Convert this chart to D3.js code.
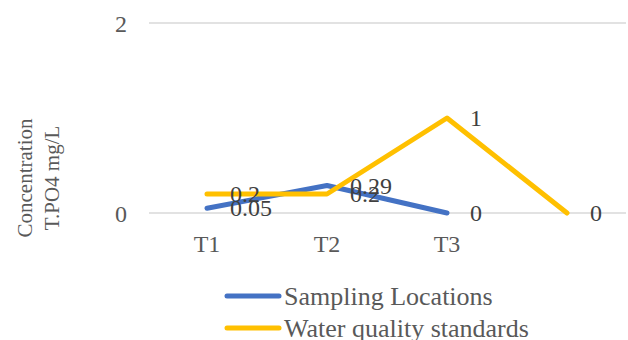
<!DOCTYPE html>
<html>
<head>
<meta charset="utf-8">
<script src="https://cdn.jsdelivr.net/npm/d3@7"></script>
<style>
  html, body { margin: 0; padding: 0; background: #fff; }
  svg { display: block; font-family: "Liberation Serif", "Times New Roman", serif; }
</style>
</head>
<body>
<svg id="chart" width="628" height="340"></svg>
<script>
// Categories along the x axis (the fourth slot has no label)
const categories = ["T1", "T2", "T3", ""];
// Total phosphate concentration at each sampling location (mg/L)
const samplingLocations = [0.05, 0.29, 0];
// Permitted limits from the water quality standards (mg/L)
const waterStandards = [0.2, 0.2, 1, 0];
// Y axis tick values
const yTicks = [0, 2];
const seriesNames = ["Sampling Locations", "Water quality standards"];
const seriesColors = ["#4472C4", "#FFC000"];

const svg = d3.select("#chart");
const margin = { left: 147, right: 1, top: 23, bottom: 127 };
const width = 628, height = 340;

const x = d3.scaleBand()
  .domain(d3.range(categories.length))
  .range([margin.left, width - margin.right]);

const y = d3.scaleLinear()
  .domain([0, 2])
  .range([height - margin.bottom, margin.top]);

const cx = i => x(i) + x.bandwidth() / 2;

// Horizontal gridlines
svg.append("g")
  .selectAll("line")
  .data(yTicks)
  .join("line")
  .attr("x1", margin.left + 2)
  .attr("x2", width - 2)
  .attr("y1", d => y(d))
  .attr("y2", d => y(d))
  .attr("stroke", "#D9D9D9")
  .attr("stroke-width", 1.5);

// Y axis tick labels
const yAxis = d3.axisLeft(y).tickValues(yTicks).tickSize(0).tickPadding(0).tickFormat(d3.format("d"));
svg.append("g")
  .attr("transform", `translate(${127},0)`)
  .call(yAxis)
  .call(g => g.select(".domain").remove())
  .call(g => g.selectAll("text")
    .attr("fill", "#595959")
    .attr("font-size", 24)
    .attr("font-family", "Liberation Serif, serif")
    .attr("dy", "0.34em"));

// X axis category labels
const xAxis = d3.axisBottom(x).tickSize(0).tickPadding(0).tickFormat(i => categories[i]);
svg.append("g")
  .attr("transform", `translate(0,${252})`)
  .call(xAxis)
  .call(g => g.select(".domain").remove())
  .call(g => g.selectAll("text")
    .attr("fill", "#595959")
    .attr("font-size", 24)
    .attr("font-family", "Liberation Serif, serif")
    .attr("y", 0)
    .attr("dy", 0));

// Y axis title (two lines, rotated)
const title = svg.append("text")
  .attr("transform", `translate(0,178) rotate(-90)`)
  .attr("text-anchor", "middle")
  .attr("fill", "#595959")
  .attr("font-size", 21);
title.append("tspan").attr("x", 0).attr("y", 32).text("Concentration");
title.append("tspan").attr("x", 0).attr("y", 59).text("T.PO4 mg/L");

// Series lines
const allSeries = [samplingLocations, waterStandards];
const line = d3.line()
  .x((d, i) => cx(i))
  .y(d => y(d));

svg.append("g")
  .selectAll("path")
  .data(allSeries)
  .join("path")
  .attr("d", d => line(d))
  .attr("fill", "none")
  .attr("stroke", (d, i) => seriesColors[i])
  .attr("stroke-width", 5)
  .attr("stroke-linecap", "round")
  .attr("stroke-linejoin", "round");

// Data labels to the right of each point
const labelData = [];
allSeries.forEach(s => s.forEach((v, i) => labelData.push({ i, v })));
svg.append("g")
  .selectAll("text")
  .data(labelData)
  .join("text")
  .attr("x", d => cx(d.i) + 23)
  .attr("y", d => y(d.v))
  .attr("dy", "0.34em")
  .attr("fill", "#404040")
  .attr("font-size", 24)
  .text(d => d.v);

// Legend
const legend = svg.append("g")
  .selectAll("g")
  .data(seriesNames)
  .join("g")
  .attr("transform", (d, i) => `translate(0,${296 + i * 32})`);
legend.append("line")
  .attr("x1", 227).attr("x2", 279)
  .attr("y1", 0).attr("y2", 0)
  .attr("stroke", (d, i) => seriesColors[i])
  .attr("stroke-width", 5)
  .attr("stroke-linecap", "round");
legend.append("text")
  .attr("x", 284)
  .attr("y", 9)
  .attr("fill", "#595959")
  .attr("font-size", 26)
  .text(d => d);
</script>
</body>
</html>
